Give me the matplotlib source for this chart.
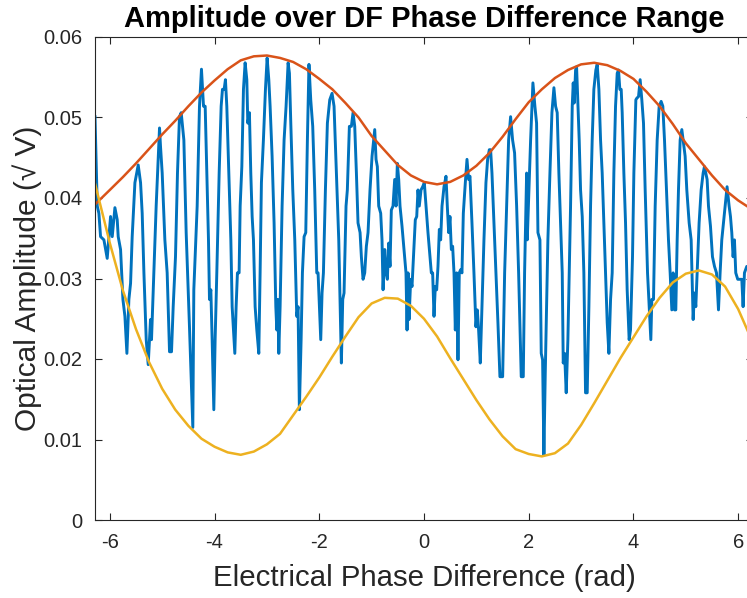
import matplotlib
matplotlib.use("Agg")
import matplotlib.pyplot as plt

# measured trace (rad, sqrt V)
phase = [
    -6.283, -6.240, -6.209, -6.177, -6.113, -6.050, -5.986, -5.954, -5.903, -5.859,
    -5.840, -5.795, -5.750, -5.712, -5.674, -5.636, -5.604, -5.573, -5.521, -5.458,
    -5.413, -5.382, -5.349, -5.305, -5.267, -5.223, -5.204, -5.159, -5.115, -5.051,
    -5.032, -5.000, -4.949, -4.905, -4.860, -4.822, -4.790, -4.746, -4.708, -4.670,
    -4.637, -4.586, -4.542, -4.479, -4.415, -4.396, -4.332, -4.288, -4.250,
    -4.211, -4.179, -4.147, -4.116, -4.097, -4.071, -4.046, -4.014, -3.989, -3.957,
    -3.912, -3.874, -3.849, -3.817, -3.792, -3.766, -3.727, -3.689, -3.664, -3.613,
    -3.588, -3.563, -3.531, -3.511, -3.479, -3.448, -3.416, -3.384, -3.365, -3.334,
    -3.308, -3.282, -3.257, -3.225, -3.193, -3.155, -3.130, -3.105, -3.067, -3.028,
    -2.996, -2.964, -2.939, -2.901, -2.863, -2.830, -2.811, -2.792, -2.773, -2.748,
    -2.710, -2.672, -2.634, -2.595, -2.570, -2.544, -2.506, -2.468, -2.430, -2.405,
    -2.380, -2.347, -2.322, -2.290, -2.258, -2.227, -2.197,
    -2.163, -2.125, -2.087, -2.048, -2.023, -1.998, -1.972, -1.947, -1.921, -1.883,
    -1.845, -1.800, -1.756, -1.718, -1.673, -1.628, -1.603, -1.578, -1.552, -1.527,
    -1.489, -1.464, -1.425, -1.387, -1.355, -1.323, -1.291, -1.260, -1.221, -1.196,
    -1.164, -1.132, -1.101, -1.069, -1.031, -0.992, -0.941, -0.916, -0.891, -0.865,
    -0.827, -0.802, -0.782, -0.750, -0.725, -0.700, -0.674, -0.649, -0.624, -0.592,
    -0.560, -0.534, -0.509, -0.483, -0.458, -0.420, -0.369, -0.344, -0.324, -0.305,
    -0.286, -0.254, -0.229, -0.191, -0.166, -0.139, -0.115, -0.090,
    -0.057, -0.025, 0.006, 0.038, 0.076, 0.115, 0.140, 0.165, 0.191, 0.216,
    0.242, 0.267, 0.293, 0.318, 0.344, 0.382, 0.420, 0.445, 0.471, 0.496,
    0.522, 0.547, 0.573, 0.598, 0.623, 0.649, 0.674, 0.700, 0.725, 0.751,
    0.789, 0.821, 0.852, 0.878, 0.916, 0.954, 0.992, 1.018, 1.043, 1.075,
    1.107, 1.145, 1.183, 1.215, 1.247, 1.272, 1.298, 1.336, 1.374, 1.412,
    1.450, 1.502, 1.540, 1.578, 1.616, 1.654, 1.692, 1.730, 1.769, 1.807,
    1.832, 1.857, 1.896, 1.921, 1.960,
    1.972, 2.036, 2.080, 2.118, 2.150, 2.176, 2.214, 2.239, 2.265, 2.290,
    2.316, 2.341, 2.366, 2.405, 2.443, 2.481, 2.513, 2.544, 2.576, 2.608,
    2.640, 2.659, 2.685, 2.716, 2.748, 2.774, 2.799, 2.831, 2.850, 2.869,
    2.895, 2.914, 2.939, 2.964, 2.990, 3.022, 3.053, 3.085, 3.117, 3.149,
    3.181, 3.212, 3.244, 3.282, 3.308, 3.340, 3.372, 3.403, 3.435, 3.467,
    3.499, 3.531, 3.563, 3.594, 3.626, 3.658, 3.690, 3.715, 3.740, 3.766,
    3.785, 3.817, 3.849, 3.880, 3.918, 3.944, 3.982, 4.008, 4.046,
    4.065, 4.097, 4.128, 4.160, 4.192, 4.224, 4.269, 4.300, 4.332, 4.351,
    4.383, 4.415, 4.453, 4.491, 4.529, 4.561, 4.593, 4.631, 4.669, 4.701,
    4.733, 4.758, 4.784, 4.809, 4.835, 4.860, 4.892, 4.924, 4.956, 4.987,
    5.019, 5.064, 5.102, 5.140, 5.166, 5.191, 5.216, 5.254, 5.293, 5.331,
    5.356, 5.382, 5.407, 5.433, 5.471, 5.509, 5.548, 5.586, 5.624, 5.655,
    5.687, 5.719, 5.750, 5.788, 5.827, 5.853, 5.878, 5.903, 5.929, 5.954,
    5.992, 6.069, 6.094, 6.120, 6.164, 6.283,
]
amplitude = [
    0.0501, 0.0390, 0.0381, 0.0352, 0.0348, 0.0325, 0.0377, 0.0352, 0.0388, 0.0373,
    0.0352, 0.0336, 0.0274, 0.0253, 0.0207, 0.0274, 0.0294, 0.0352, 0.0419, 0.0441,
    0.0419, 0.0381, 0.0307, 0.0224, 0.0193, 0.0249, 0.0224, 0.0307, 0.0390, 0.0487,
    0.0464, 0.0431, 0.0348, 0.0307, 0.0209, 0.0209, 0.0265, 0.0327, 0.0431, 0.0501,
    0.0506, 0.0472, 0.0357, 0.0240, 0.0115, 0.0286, 0.0390, 0.0514, 0.0560,
    0.0514, 0.0514, 0.0431, 0.0348, 0.0274, 0.0286, 0.0224, 0.0137, 0.0224, 0.0307,
    0.0431, 0.0514, 0.0535, 0.0535, 0.0547, 0.0514, 0.0431, 0.0348, 0.0265, 0.0207,
    0.0265, 0.0307, 0.0307, 0.0390, 0.0439, 0.0535, 0.0568, 0.0547, 0.0493, 0.0506,
    0.0431, 0.0377, 0.0348, 0.0265, 0.0236, 0.0207, 0.0307, 0.0419, 0.0472, 0.0535,
    0.0574, 0.0547, 0.0514, 0.0452, 0.0369, 0.0265, 0.0236, 0.0274, 0.0207, 0.0265,
    0.0390, 0.0472, 0.0514, 0.0568, 0.0555, 0.0493, 0.0410, 0.0348, 0.0253, 0.0265,
    0.0137, 0.0224, 0.0307, 0.0352, 0.0357, 0.0472, 0.0566,
    0.0522, 0.0489, 0.0410, 0.0307, 0.0307, 0.0265, 0.0224, 0.0282, 0.0307, 0.0410,
    0.0493, 0.0522, 0.0530, 0.0514, 0.0431, 0.0348, 0.0274, 0.0195, 0.0274, 0.0282,
    0.0390, 0.0410, 0.0489, 0.0489, 0.0506, 0.0489, 0.0431, 0.0369, 0.0357, 0.0327,
    0.0299, 0.0307, 0.0340, 0.0357, 0.0410, 0.0452, 0.0485, 0.0448, 0.0439, 0.0390,
    0.0381, 0.0348, 0.0286, 0.0336, 0.0307, 0.0299, 0.0344, 0.0315, 0.0385, 0.0390,
    0.0423, 0.0390, 0.0443, 0.0423, 0.0390, 0.0365, 0.0327, 0.0307, 0.0236, 0.0307,
    0.0249, 0.0299, 0.0290, 0.0340, 0.0373, 0.0377, 0.0410, 0.0390,
    0.0410, 0.0414, 0.0419, 0.0390, 0.0357, 0.0327, 0.0307, 0.0307, 0.0253, 0.0290,
    0.0286, 0.0315, 0.0361, 0.0348, 0.0390, 0.0414, 0.0427, 0.0390, 0.0357, 0.0377,
    0.0336, 0.0340, 0.0307, 0.0236, 0.0307, 0.0199, 0.0307, 0.0311, 0.0307, 0.0381,
    0.0419, 0.0448, 0.0423, 0.0427, 0.0369, 0.0307, 0.0240, 0.0261, 0.0236, 0.0195,
    0.0265, 0.0348, 0.0419, 0.0448, 0.0460, 0.0460, 0.0431, 0.0369, 0.0307, 0.0245,
    0.0178, 0.0178, 0.0307, 0.0390, 0.0472, 0.0501, 0.0472, 0.0456, 0.0390, 0.0307,
    0.0245, 0.0178, 0.0178, 0.0307, 0.0431,
    0.0348, 0.0472, 0.0543, 0.0514, 0.0493, 0.0357, 0.0348, 0.0207, 0.0199, 0.0081,
    0.0183, 0.0265, 0.0348, 0.0431, 0.0506, 0.0537, 0.0514, 0.0506, 0.0431, 0.0369,
    0.0307, 0.0195, 0.0207, 0.0158, 0.0224, 0.0307, 0.0390, 0.0514, 0.0543, 0.0518,
    0.0559, 0.0563, 0.0518, 0.0472, 0.0410, 0.0377, 0.0307, 0.0158, 0.0158, 0.0265,
    0.0390, 0.0472, 0.0535, 0.0559, 0.0566, 0.0535, 0.0472, 0.0431, 0.0369, 0.0307,
    0.0245, 0.0207, 0.0274, 0.0307, 0.0431, 0.0514, 0.0555, 0.0559, 0.0535, 0.0535,
    0.0506, 0.0431, 0.0369, 0.0286, 0.0224, 0.0236, 0.0327, 0.0431, 0.0522,
    0.0524, 0.0526, 0.0547, 0.0522, 0.0493, 0.0410, 0.0307, 0.0265, 0.0224, 0.0274,
    0.0274, 0.0390, 0.0472, 0.0514, 0.0520, 0.0514, 0.0472, 0.0410, 0.0348, 0.0307,
    0.0261, 0.0307, 0.0261, 0.0261, 0.0348, 0.0410, 0.0472, 0.0485, 0.0468, 0.0452,
    0.0410, 0.0369, 0.0348, 0.0249, 0.0282, 0.0265, 0.0307, 0.0369, 0.0410, 0.0431,
    0.0439, 0.0431, 0.0423, 0.0390, 0.0365, 0.0327, 0.0315, 0.0307, 0.0261, 0.0307,
    0.0348, 0.0369, 0.0390, 0.0414, 0.0390, 0.0377, 0.0357, 0.0327, 0.0348, 0.0307,
    0.0299, 0.0299, 0.0265, 0.0307, 0.0315, 0.0310,
]

# envelopes
env_phase = [
    -6.283, -6.0, -5.75, -5.5, -5.25, -5.0, -4.75, -4.5, -4.25, -4.0,
    -3.75, -3.5, -3.25, -3.0, -2.75, -2.5, -2.25, -2.0, -1.75, -1.5,
    -1.25, -1.0, -0.75, -0.5, -0.25, 0.0, 0.25, 0.5, 0.75, 1.0,
    1.25, 1.5, 1.75, 2.0, 2.25, 2.5, 2.75, 3.0, 3.25, 3.5,
    3.75, 4.0, 4.25, 4.5, 4.75, 5.0, 5.25, 5.5, 5.75, 6.0, 6.283,
]
upper_env = [
    0.0392, 0.0410, 0.0426, 0.0443, 0.0461, 0.0479, 0.0496, 0.0514, 0.0531, 0.0546,
    0.0560, 0.0571, 0.0576, 0.0577, 0.0574, 0.0569, 0.0560, 0.0548, 0.0535, 0.0518,
    0.0500, 0.0477, 0.0459, 0.0441, 0.0428, 0.0420, 0.0417, 0.0420, 0.0428, 0.0440,
    0.0456, 0.0476, 0.0498, 0.0519, 0.0535, 0.0549, 0.0559, 0.0566, 0.0568, 0.0565,
    0.0558, 0.0548, 0.0532, 0.0514, 0.0492, 0.0468, 0.0448, 0.0428, 0.0410, 0.0397, 0.0385,
]
lower_env = [
    0.0418, 0.0344, 0.0285, 0.0237, 0.0196, 0.0163, 0.0137, 0.0117, 0.0101, 0.0091,
    0.0084, 0.0081, 0.0085, 0.0094, 0.0107, 0.0130, 0.0153, 0.0177, 0.0203, 0.0228,
    0.0252, 0.0269, 0.0276, 0.0275, 0.0266, 0.0250, 0.0228, 0.0201, 0.0175, 0.0149,
    0.0125, 0.0104, 0.0088, 0.0082, 0.0079, 0.0083, 0.0095, 0.0118, 0.0145, 0.0173,
    0.0201, 0.0227, 0.0253, 0.0276, 0.0295, 0.0306, 0.0310, 0.0305, 0.0290, 0.0262, 0.0220,
]

xticks = [-6, -4, -2, 0, 2, 4, 6]
yticks = [0, 0.01, 0.02, 0.03, 0.04, 0.05, 0.06]
ytick_labels = ['0', '0.01', '0.02', '0.03', '0.04', '0.05', '0.06']

plt.rcParams['font.family'] = ['Liberation Sans', 'DejaVu Sans']
plt.rcParams['axes.unicode_minus'] = False

fig = plt.figure(figsize=(7.47, 5.98), dpi=100)
ax = fig.add_axes([95 / 747, 1 - 520 / 598, (753 - 95) / 747, (520 - 37) / 598])

ax.plot(phase, amplitude, color='#0072BD', lw=2.1)
ax.plot(env_phase, upper_env, color='#D95319', lw=1.8)
ax.plot(env_phase, lower_env, color='#EDB120', lw=1.8)

ax.set_xlim(-6.2832, 6.2832)
ax.set_ylim(0, 0.06)
ax.set_xticks(xticks)
ax.set_xticklabels([str(t) for t in xticks])
ax.set_yticks(yticks)
ax.set_yticklabels(ytick_labels)

ax.tick_params(direction='in', length=5, width=0.8, top=True, right=True,
               labelsize=14.5, colors='#262626')
ax.tick_params(axis='x', pad=9)
ax.tick_params(axis='y', pad=9)
for s in ax.spines.values():
    s.set_color('#262626')
    s.set_linewidth(0.8)

ax.set_title('Amplitude over DF Phase Difference Range', fontsize=21,
             fontweight='bold', pad=7)
ax.set_xlabel('Electrical Phase Difference (rad)', fontsize=21.2,
              color='#262626', labelpad=9)
ax.set_ylabel('Optical Amplitude (\u221a V)', fontsize=21.5,
              color='#262626', labelpad=1)

fig.savefig('out.png', dpi=100)
